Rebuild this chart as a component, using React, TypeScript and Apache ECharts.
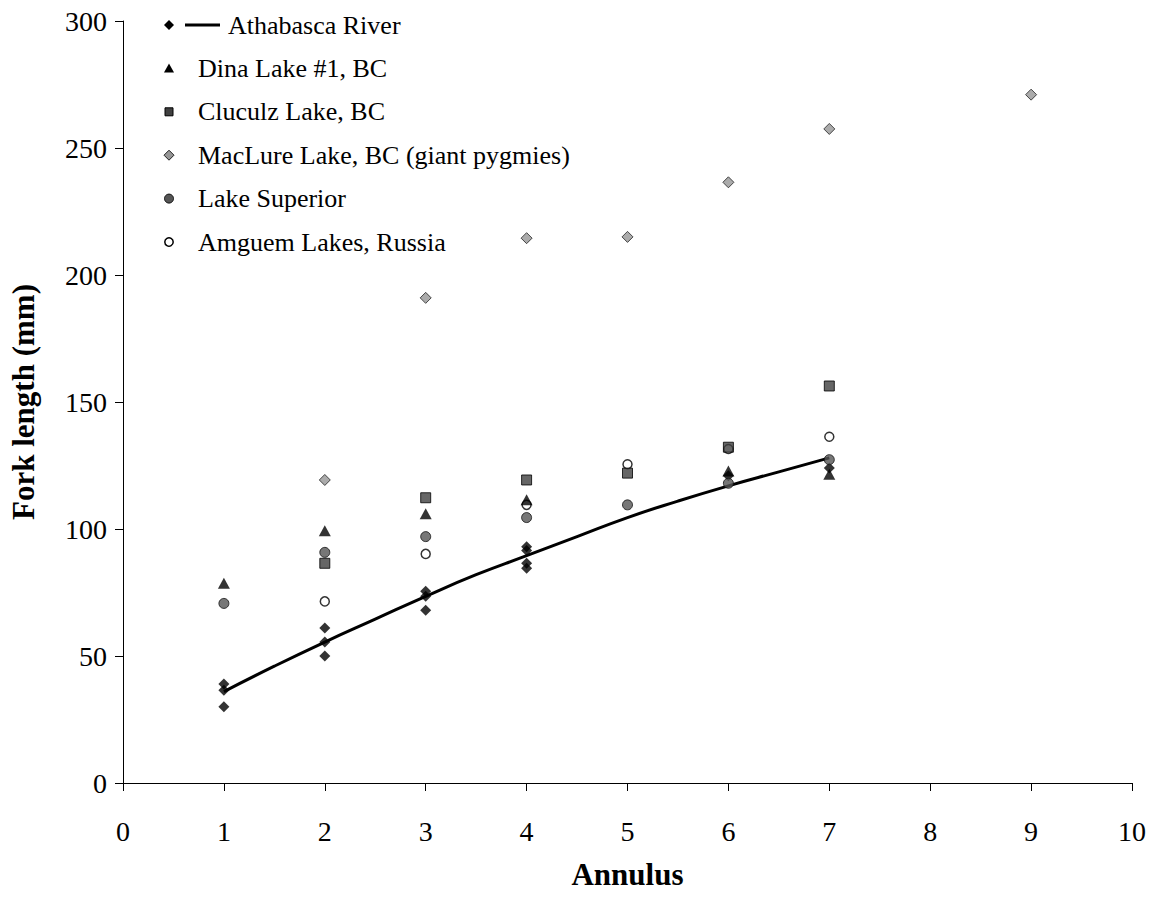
import React, { useEffect, useRef } from "react";
import * as echarts from "echarts";

const xTicks = [0, 1, 2, 3, 4, 5, 6, 7, 8, 9, 10];

const athabascaPoints: [number, number][] = [
  [1, 39], [1, 36.5], [1, 30],
  [2, 61], [2, 55.5], [2, 50],
  [3, 75.5], [3, 73.5], [3, 68],
  [4, 93], [4, 91.5], [4, 86.5], [4, 84.5],
  [6, 121], [7, 124],
];
const athabascaFit: [number, number][] = [
  [1, 36], [1.5, 46], [2, 55.5], [2.5, 64.5], [3, 73.5], [3.5, 82],
  [4, 89.5], [4.5, 97], [5, 104.5], [5.5, 111], [6, 117], [6.5, 122.5], [7, 128],
];
const dinaLake: [number, number][] = [
  [1, 78.6], [2, 99.3], [3, 106], [4, 111.5], [6, 122.8], [7, 121.6],
];
const cluculzLake: [number, number][] = [
  [2, 86.5], [3, 112.3], [4, 119.3], [5, 122], [6, 132.2], [7, 156.3],
];
const maclureLake: [number, number][] = [
  [2, 119.3], [3, 191], [4, 214.5], [5, 215], [6, 236.5], [7, 257.5], [9, 271],
];
const lakeSuperior: [number, number][] = [
  [1, 70.7], [2, 90.8], [3, 97], [4, 104.5], [5, 109.5], [6, 118], [7, 127.3],
];
const amguemLakes: [number, number][] = [
  [2, 71.5], [3, 90.2], [4, 109.5], [5, 125.5], [6, 131.5], [7, 136.3],
];

const seriesNames = [
  "Athabasca River",
  "Dina Lake #1, BC",
  "Cluculz Lake, BC",
  "MacLure Lake, BC (giant pygmies)",
  "Lake Superior",
  "Amguem Lakes, Russia",
];

const FONT = "Liberation Serif";

export default function App() {
  const ref = useRef<HTMLDivElement>(null);
  useEffect(() => {
    if (!ref.current) return;
    const chart = echarts.init(ref.current, undefined, { renderer: "svg" });

    const legX = 169;
    const legTop = 25;
    const legStep = 43.4;
    const textX = 198;
    const legendGraphics: any[] = [];
    const rowY = (i: number) => legTop + i * legStep;
    legendGraphics.push({
      type: "polygon",
      shape: { points: [[legX, rowY(0) - 5], [legX + 5, rowY(0)], [legX, rowY(0) + 5], [legX - 5, rowY(0)]] },
      style: { fill: "#000" },
    });
    legendGraphics.push({
      type: "line",
      shape: { x1: 185, y1: rowY(0), x2: 220, y2: rowY(0) },
      style: { stroke: "#000", lineWidth: 3 },
    });
    legendGraphics.push({
      type: "polygon",
      shape: { points: [[legX, rowY(1) - 5], [legX + 5, rowY(1) + 4], [legX - 5, rowY(1) + 4]] },
      style: { fill: "#000" },
    });
    legendGraphics.push({
      type: "rect",
      shape: { x: legX - 4, y: rowY(2) - 4, width: 8, height: 8 },
      style: { fill: "#404040", stroke: "#000", lineWidth: 1 },
    });
    legendGraphics.push({
      type: "polygon",
      shape: { points: [[legX, rowY(3) - 5], [legX + 5, rowY(3)], [legX, rowY(3) + 5], [legX - 5, rowY(3)]] },
      style: { fill: "#969696", stroke: "#222", lineWidth: 1 },
    });
    legendGraphics.push({
      type: "circle",
      shape: { cx: legX, cy: rowY(4), r: 4.5 },
      style: { fill: "#555", stroke: "#111", lineWidth: 1 },
    });
    legendGraphics.push({
      type: "circle",
      shape: { cx: legX, cy: rowY(5), r: 4.2 },
      style: { fill: "#fff", stroke: "#000", lineWidth: 1.5 },
    });
    seriesNames.forEach((n, i) => {
      legendGraphics.push({
        type: "text",
        x: i === 0 ? 228 : textX,
        y: rowY(i),
        style: {
          text: n,
          fontFamily: FONT,
          fontSize: 26,
          fill: "#000",
          verticalAlign: "middle",
        },
      });
    });

    chart.setOption({
      animation: false,
      backgroundColor: "#fff",
      grid: { left: 123, right: 14, top: 21, bottom: 118, containLabel: false },
      graphic: legendGraphics,
      xAxis: {
        type: "value",
        min: 0,
        max: 10,
        interval: 1,
        name: "Annulus",
        nameLocation: "middle",
        nameGap: 76,
        nameTextStyle: { fontFamily: FONT, fontSize: 31, fontWeight: "bold", color: "#000" },
        axisLine: { show: true, lineStyle: { color: "#000", width: 1 } },
        axisTick: { show: true, length: 8, lineStyle: { color: "#000" } },
        axisLabel: {
          margin: 34,
          fontFamily: FONT,
          fontSize: 28,
          color: "#000",
          formatter: (v: number) => (xTicks.includes(v) ? String(v) : ""),
        },
        splitLine: { show: false },
      },
      yAxis: {
        type: "value",
        min: 0,
        max: 300,
        interval: 50,
        name: "Fork length (mm)",
        nameLocation: "middle",
        nameGap: 84,
        nameTextStyle: { fontFamily: FONT, fontSize: 31, fontWeight: "bold", color: "#000" },
        axisLine: { show: true, lineStyle: { color: "#000", width: 1 } },
        axisTick: { show: true, length: 8, lineStyle: { color: "#000" } },
        axisLabel: { margin: 16, fontFamily: FONT, fontSize: 28, color: "#000" },
        splitLine: { show: false },
      },
      series: [
        {
          name: "Athabasca River fit",
          type: "line",
          data: athabascaFit,
          smooth: true,
          showSymbol: false,
          lineStyle: { color: "#000", width: 3 },
          z: 3,
        },
        {
          name: seriesNames[0],
          type: "scatter",
          data: athabascaPoints,
          symbol: "diamond",
          symbolSize: [11, 11],
          itemStyle: { color: "#000" },
          z: 4,
        },
        {
          name: seriesNames[1],
          type: "scatter",
          data: dinaLake,
          symbol: "triangle",
          symbolSize: [12, 11],
          itemStyle: { color: "#000" },
          z: 5,
        },
        {
          name: seriesNames[2],
          type: "scatter",
          data: cluculzLake,
          symbol: "rect",
          symbolSize: 10,
          itemStyle: { color: "#404040", borderColor: "#000", borderWidth: 1 },
          z: 6,
        },
        {
          name: seriesNames[3],
          type: "scatter",
          data: maclureLake,
          symbol: "diamond",
          symbolSize: [11, 11],
          itemStyle: { color: "#969696", borderColor: "#222", borderWidth: 1 },
          z: 6,
        },
        {
          name: seriesNames[4],
          type: "scatter",
          data: lakeSuperior,
          symbol: "circle",
          symbolSize: 10,
          itemStyle: { color: "#555", borderColor: "#111", borderWidth: 1 },
          z: 4,
        },
        {
          name: seriesNames[5],
          type: "scatter",
          data: amguemLakes,
          symbol: "circle",
          symbolSize: 9,
          itemStyle: { color: "#fff", borderColor: "#000", borderWidth: 1.5 },
          z: 4,
        },
      ],
    });
    return () => chart.dispose();
  }, []);
  return <div ref={ref} style={{ width: 1149, height: 901, position: "absolute", left: 0, top: 0 }} />;
}
